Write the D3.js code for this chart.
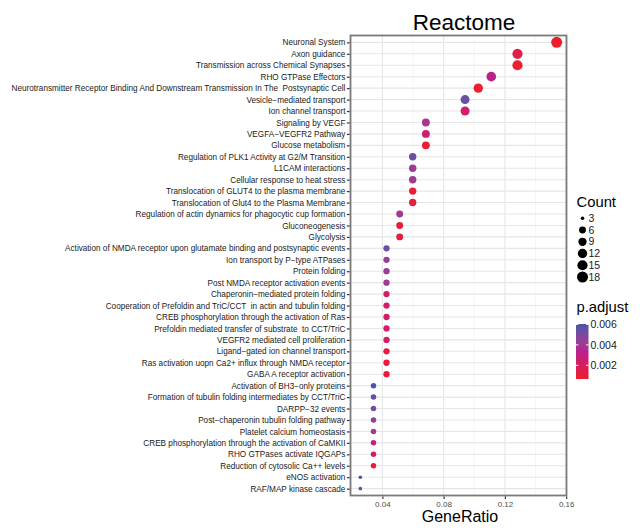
<!DOCTYPE html>
<html><head><meta charset="utf-8">
<script src="https://cdn.jsdelivr.net/npm/d3@7"></script>
<style>body{margin:0;background:#fff}svg{display:block}text{font-family:"Liberation Sans",Arial,sans-serif}</style>
</head><body><svg id="c" width="640" height="529"></svg>
<script>
const categories = [
"Neuronal System","Axon guidance","Transmission across Chemical Synapses","RHO GTPase Effectors",
"Neurotransmitter Receptor Binding And Downstream Transmission In The  Postsynaptic Cell",
"Vesicle\u2212mediated transport","Ion channel transport","Signaling by VEGF","VEGFA\u2212VEGFR2 Pathway",
"Glucose metabolism","Regulation of PLK1 Activity at G2/M Transition","L1CAM interactions",
"Cellular response to heat stress","Translocation of GLUT4 to the plasma membrane",
"Translocation of Glut4 to the Plasma Membrane","Regulation of actin dynamics for phagocytic cup formation",
"Gluconeogenesis","Glycolysis","Activation of NMDA receptor upon glutamate binding and postsynaptic events",
"Ion transport by P\u2212type ATPases","Protein folding","Post NMDA receptor activation events",
"Chaperonin\u2212mediated protein folding","Cooperation of Prefoldin and TriC/CCT  in actin and tubulin folding",
"CREB phosphorylation through the activation of Ras","Prefoldin mediated transfer of substrate  to CCT/TriC",
"VEGFR2 mediated cell proliferation","Ligand\u2212gated ion channel transport",
"Ras activation uopn Ca2+ influx through NMDA receptor","GABA A receptor activation",
"Activation of BH3\u2212only proteins","Formation of tubulin folding intermediates by CCT/TriC",
"DARPP\u221232 events","Post\u2212chaperonin tubulin folding pathway","Platelet calcium homeostasis",
"CREB phosphorylation through the activation of CaMKII","RHO GTPases activate IQGAPs",
"Reduction of cytosolic Ca++ levels","eNOS activation","RAF/MAP kinase cascade"];
const geneRatio = [0.1538,0.1282,0.1282,0.1111,0.1026,0.0940,0.0940,0.0684,0.0684,0.0684,
0.0598,0.0598,0.0598,0.0598,0.0598,0.0513,0.0513,0.0513,0.0427,0.0427,
0.0427,0.0427,0.0427,0.0427,0.0427,0.0427,0.0427,0.0427,0.0427,0.0427,
0.0342,0.0342,0.0342,0.0342,0.0342,0.0342,0.0342,0.0342,0.0256,0.0256];
const counts = [18,15,15,13,12,11,11,8,8,8,7,7,7,7,7,6,6,6,5,5,5,5,5,5,5,5,5,5,5,5,4,4,4,4,4,4,4,4,3,3];
const pAdjust = [0.00066,0.0016,0.0008,0.0033,0.0008,0.0054,0.0023,0.0039,0.0025,0.0009,
0.0054,0.0041,0.0041,0.0011,0.0012,0.0040,0.0012,0.0012,0.0054,0.0043,
0.0042,0.0041,0.0023,0.0023,0.0023,0.0023,0.0022,0.0013,0.0012,0.0010,
0.0059,0.0055,0.0050,0.0043,0.0041,0.0028,0.0023,0.0011,0.00604,0.0060];
const xTicks = [0.04,0.08,0.12,0.16];
const xMinor = [0.02,0.06,0.10,0.14];
const sizeBreaks = [3,6,9,12,15,18];
const pBreaks = [0.006,0.004,0.002];
const colorStops = ["#EE1E2A","#B8228E","#4356A8"];

const svg = d3.select("#c");
const L=350.5, R=566.5, T=35.5, B=495.5;
const gMin=d3.min(geneRatio), gMax=d3.max(geneRatio), gPad=(gMax-gMin)*0.05;
const x = d3.scaleLinear().domain([gMin-gPad,gMax+gPad]).range([L,R]);
const y = d3.scalePoint().domain(categories).range([T,B]).padding(0.6);
const cMin=d3.min(counts), cMax=d3.max(counts);
const r = v => 1.8 + 3.7*Math.sqrt((v-cMin)/(cMax-cMin));
const pMin=d3.min(pAdjust), pMax=d3.max(pAdjust);
const interp = d3.piecewise(d3.interpolateLab, colorStops);
const col = d3.scaleLinear().domain([pMin,pMax]).range([0,1]);
const color = p => interp(col(p));

// grid
const grid = svg.append("g");
grid.selectAll(".mn").data(xMinor.filter(v=>x(v)>L)).join("line")
  .attr("x1",d=>x(d)).attr("x2",d=>x(d)).attr("y1",T).attr("y2",B)
  .attr("stroke","#F2F2F2").attr("stroke-width",0.6);
grid.selectAll(".mj").data(xTicks).join("line")
  .attr("x1",d=>x(d)).attr("x2",d=>x(d)).attr("y1",T).attr("y2",B)
  .attr("stroke","#E6E6E6").attr("stroke-width",1.1);
grid.selectAll(".hz").data(categories).join("line")
  .attr("x1",L).attr("x2",R).attr("y1",d=>y(d)).attr("y2",d=>y(d))
  .attr("stroke","#E6E6E6").attr("stroke-width",1.1);

// points
svg.append("g").selectAll("circle").data(categories).join("circle")
  .attr("cx",(d,i)=>x(geneRatio[i])).attr("cy",d=>y(d))
  .attr("r",(d,i)=>r(counts[i])).attr("fill",(d,i)=>color(pAdjust[i]));

// border
svg.append("rect").attr("x",L).attr("y",T).attr("width",R-L).attr("height",B-T)
  .attr("fill","none").attr("stroke","#7A7A7A").attr("stroke-width",1.8);

// y axis
const ya = svg.append("g").attr("transform",`translate(${L-0.9},0)`)
  .call(d3.axisLeft(y).tickSize(2.7).tickPadding(1.5));
ya.select(".domain").remove();
ya.selectAll(".tick line").attr("stroke","#333").attr("stroke-width",1.2);
ya.selectAll(".tick text").attr("fill","#1a1a1a").style("font-size","8.2px")
  .style("white-space","pre").attr("font-family",null);

// x axis
const xa = svg.append("g").attr("transform",`translate(0,${B+0.9})`)
  .call(d3.axisBottom(x).tickValues(xTicks).tickFormat(d3.format(".2f")).tickSize(2.7).tickPadding(2));
xa.select(".domain").remove();
xa.selectAll(".tick line").attr("stroke","#333").attr("stroke-width",1.2);
xa.selectAll(".tick text").attr("fill","#4D4D4D").style("font-size","8px").attr("font-family",null);

// titles
svg.append("text").attr("x",464).attr("y",30).attr("text-anchor","middle")
  .style("font-size","22.5px").attr("fill","#000").text("Reactome");
svg.append("text").attr("x",460).attr("y",521.5).attr("text-anchor","middle")
  .style("font-size","16px").attr("fill","#000").text("GeneRatio");

// size legend
const lg = svg.append("g");
lg.append("text").attr("x",576.5).attr("y",206.5).style("font-size","14.8px").text("Count");
const ky = d3.scaleLinear().domain([3,18]).range([218.3,277]);
lg.selectAll("circle").data(sizeBreaks).join("circle")
  .attr("cx",582.5).attr("cy",d=>ky(d)).attr("r",d=>r(d)).attr("fill","#000");
lg.selectAll(".lt").data(sizeBreaks).join("text")
  .attr("x",588.5).attr("y",d=>ky(d)+3.7).style("font-size","10.5px").attr("fill","#1a1a1a").text(d=>d);

// colour legend
lg.append("text").attr("x",576.5).attr("y",311.5).style("font-size","14.8px").text("p.adjust");
const bx=576, bw=12.5, bt=324, bb=379;
const grad = svg.append("defs").append("linearGradient").attr("id","pg")
  .attr("x1",0).attr("y1",1).attr("x2",0).attr("y2",0);
d3.range(0,1.0001,0.05).forEach(t=>{
  grad.append("stop").attr("offset",t).attr("stop-color",interp(t));
});
lg.append("rect").attr("x",bx).attr("y",bt).attr("width",bw).attr("height",bb-bt).attr("fill","url(#pg)");
const py = d3.scaleLinear().domain([pMin,pMax]).range([bb,bt]);
pBreaks.forEach(v=>{
  const yy = py(v);
  lg.append("line").attr("x1",bx).attr("x2",bx+2.4).attr("y1",yy).attr("y2",yy).attr("stroke","#fff").attr("stroke-width",1);
  lg.append("line").attr("x1",bx+bw-2.4).attr("x2",bx+bw).attr("y1",yy).attr("y2",yy).attr("stroke","#fff").attr("stroke-width",1);
  lg.append("text").attr("x",590.5).attr("y",yy+3.7).style("font-size","10.5px").attr("fill","#1a1a1a").text(d3.format(".3f")(v));
});
</script></body></html>
